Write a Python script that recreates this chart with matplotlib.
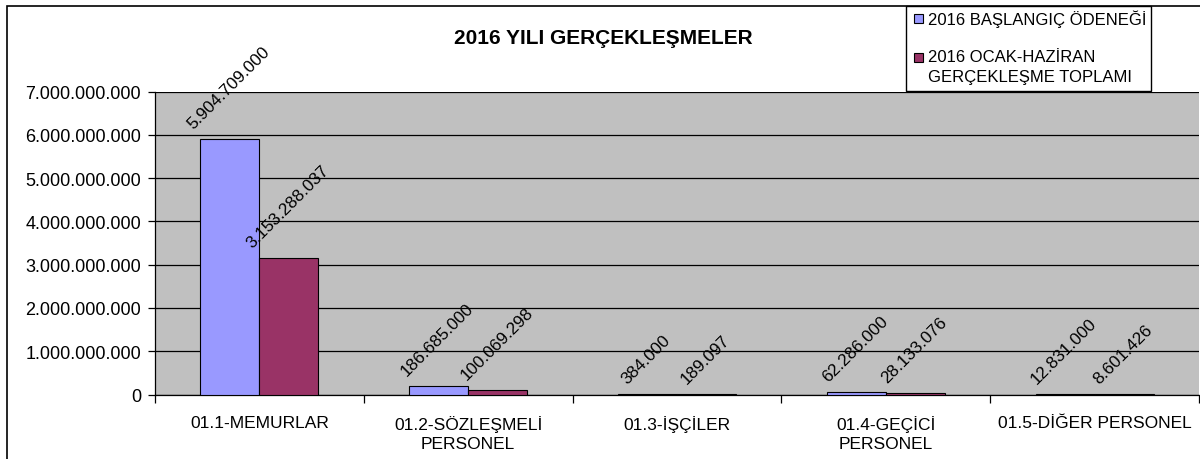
import matplotlib
matplotlib.use("Agg")
import matplotlib.pyplot as plt
from matplotlib.patches import Rectangle
import numpy as np

categories = ["01.1-MEMURLAR", "01.2-SÖZLEŞMELİ\nPERSONEL", "01.3-İŞÇİLER",
              "01.4-GEÇİCİ\nPERSONEL", "01.5-DİĞER PERSONEL"]
series_names = ["2016 BAŞLANGIÇ ÖDENEĞİ", "2016 OCAK-HAZİRAN\nGERÇEKLEŞME TOPLAMI"]
baslangic = [5904709000, 186685000, 384000, 62286000, 12831000]
gerceklesme = [3153288037, 100069298, 189097, 28133076, 8601426]
title = "2016 YILI GERÇEKLEŞMELER"
colors = ["#9999FF", "#993366"]

plt.rcParams['font.family'] = ['Liberation Sans', 'DejaVu Sans']

W, H = 1200, 460
fig = plt.figure(figsize=(W / 100, H / 100), dpi=100)
fig.patch.set_facecolor("white")

def fx(x):
    return x / W

def fy(y):
    return 1 - y / H

ax = fig.add_axes([fx(155), fy(395.5), fx(1199) - fx(155), fy(92.5) - fy(395.5)])
ax.set_facecolor("#C0C0C0")

x = np.arange(len(categories))
bw = 0.283
series = [baslangic, gerceklesme]
offsets = [-bw / 2, bw / 2]
for vals, off, col in zip(series, offsets, colors):
    ax.bar(x + off, vals, width=bw, color=col, edgecolor="black", linewidth=0.8, zorder=3)
    for xi, v in zip(x, vals):
        lab = f"{v:,}".replace(",", ".")
        ax.annotate(lab, (xi + off, v), xytext=(-1, 8), textcoords="offset pixels",
                    rotation=45, ha="center", va="bottom", fontsize=12.3, zorder=4)

ax.set_xlim(-0.5, len(categories) - 0.5)
ax.set_ylim(0, 7e9)
yt = np.arange(0, 7e9 + 1, 1e9)
ax.set_yticks(yt)
ax.set_yticklabels([f"{int(v):,}".replace(",", ".") for v in yt], fontsize=13)
ax.yaxis.grid(True, color="black", linewidth=0.9, zorder=1)
ax.set_axisbelow(True)

ax.set_xticks(x)
ax.set_xticklabels(categories, fontsize=12.5, linespacing=1.35)
ax.set_xticks(np.arange(-0.5, len(categories) - 0.4, 1), minor=True)
ax.tick_params(axis="x", which="major", length=0, pad=15)
ax.tick_params(axis="x", which="minor", length=6, width=0.9, direction="out")
ax.tick_params(axis="y", length=5, width=0.9, direction="out", pad=5)

for s in ["top", "right"]:
    ax.spines[s].set_visible(False)
ax.spines["left"].set_linewidth(0.9)
ax.spines["bottom"].set_linewidth(0.9)

# outer chart frame (cropped at right/bottom)
fig.add_artist(Rectangle((fx(7), fy(470)), fx(1300) - fx(7), fy(7) - fy(470),
                         transform=fig.transFigure, fill=False, edgecolor="black",
                         linewidth=1.2, clip_on=False))

fig.text(fx(603), fy(38), title, ha="center", va="center", fontsize=15, fontweight="bold")

# legend
fig.add_artist(Rectangle((fx(906), fy(92)), fx(1151) - fx(906), fy(7) - fy(92),
                         transform=fig.transFigure, facecolor="white", edgecolor="black",
                         linewidth=1.0, zorder=10))
leg_y = [19, 58]
for name, col, yy in zip(series_names, colors, leg_y):
    fig.add_artist(Rectangle((fx(914), fy(yy + 4.5)), fx(9), 9 / H,
                             transform=fig.transFigure, facecolor=col, edgecolor="black",
                             linewidth=0.8, zorder=11))
    fig.text(fx(928), fy(yy - 8), name, ha="left", va="top", fontsize=12,
             linespacing=1.4, zorder=12)

fig.savefig("out.png", dpi=100)
